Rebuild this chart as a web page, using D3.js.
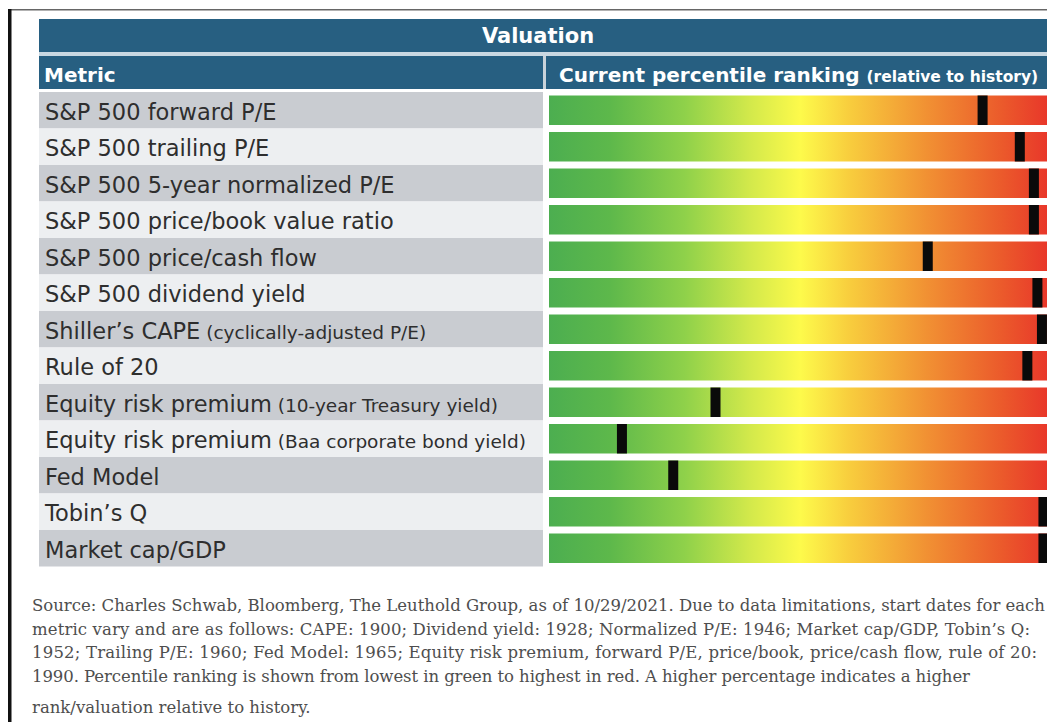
<!DOCTYPE html>
<html>
<head>
<meta charset="utf-8">
<script src="https://cdn.jsdelivr.net/npm/d3@7"></script>
<style>
  html, body { margin: 0; padding: 0; background: #fff; }
  svg { display: block; }
</style>
</head>
<body>
<svg id="chart"></svg>
<script>
// Data
const metrics = [
  "S&P 500 forward P/E",
  "S&P 500 trailing P/E",
  "S&P 500 5-year normalized P/E",
  "S&P 500 price/book value ratio",
  "S&P 500 price/cash flow",
  "S&P 500 dividend yield",
  "Shiller’s CAPE",
  "Rule of 20",
  "Equity risk premium",
  "Equity risk premium",
  "Fed Model",
  "Tobin’s Q",
  "Market cap/GDP"
];
// small text printed after some metric names
const metricNotes = ["", "", "", "", "", "", "(cyclically-adjusted P/E)", "", "(10-year Treasury yield)", "(Baa corporate bond yield)", "", "", ""];
// current percentile ranking, 0 = lowest (green) .. 100 = highest (red)
const percentiles = [86.2, 93.6, 96.4, 96.4, 75.3, 97.1, 98.0, 95.1, 33.1, 14.5, 24.7, 98.3, 98.3];

const title = "Valuation";
const colHeaders = ["Metric", "Current percentile ranking"];
const colHeaderNote = "(relative to history)";
const footnote = [
  "Source: Charles Schwab, Bloomberg, The Leuthold Group, as of 10/29/2021. Due to data limitations, start dates for each",
  "metric vary and are as follows: CAPE: 1900; Dividend yield: 1928; Normalized P/E: 1946; Market cap/GDP, Tobin’s Q:",
  "1952; Trailing P/E: 1960; Fed Model: 1965; Equity risk premium, forward P/E, price/book, price/cash flow, rule of 20:",
  "1990. Percentile ranking is shown from lowest in green to highest in red. A higher percentage indicates a higher",
  "rank/valuation relative to history."
];
const footnoteWidths = [1013, 998, 1005, 938, null];

const W = 1047, H = 722;
const tableLeft = 39, tableRight = 1060;
const labelRight = 543;
const blue = "#275f81";

const svg = d3.select("#chart").attr("width", W).attr("height", H);

// gradient for the bars
const defs = svg.append("defs");
const grad = defs.append("linearGradient").attr("id", "heat")
  .attr("x1", "0%").attr("x2", "100%").attr("y1", "0%").attr("y2", "0%");
[[0, "#4cae50"], [0.12, "#5db84b"], [0.27, "#8fd14a"], [0.4, "#d3e94b"], [0.5, "#fdfa4b"],
 [0.6, "#f8cc3d"], [0.75, "#f19133"], [0.9, "#eb5a2b"], [1, "#e8342a"]]
  .forEach(s => grad.append("stop").attr("offset", s[0]).attr("stop-color", s[1]));

// frame lines
svg.append("rect").attr("x", 8).attr("y", 9).attr("width", W).attr("height", 1.5).attr("fill", "#666");
svg.append("rect").attr("x", 8).attr("y", 9).attr("width", 3.5).attr("height", H).attr("fill", "#111");

// header bars
svg.append("rect").attr("x", tableLeft).attr("y", 19).attr("width", tableRight - tableLeft).attr("height", 33).attr("fill", blue);
svg.append("rect").attr("x", tableLeft).attr("y", 52).attr("width", tableRight - tableLeft).attr("height", 4).attr("fill", "#c9d8e2");
svg.append("rect").attr("x", tableLeft).attr("y", 56).attr("width", tableRight - tableLeft).attr("height", 33).attr("fill", blue);
svg.append("rect").attr("x", labelRight).attr("y", 56).attr("width", 3).attr("height", 33).attr("fill", "#c9d3da");

svg.append("text").attr("x", 538).attr("y", 43).attr("text-anchor", "middle")
  .attr("font-family", "DejaVu Sans").attr("font-weight", "bold").attr("font-size", 21)
  .attr("fill", "#fff").text(title);
svg.append("text").attr("x", 44).attr("y", 82)
  .attr("font-family", "DejaVu Sans").attr("font-weight", "bold").attr("font-size", 20)
  .attr("fill", "#fff").text(colHeaders[0]);
const h2 = svg.append("text").attr("x", 559).attr("y", 82)
  .attr("font-family", "DejaVu Sans").attr("font-weight", "bold").attr("font-size", 20)
  .attr("fill", "#fff");
h2.append("tspan").text(colHeaders[1] + " ");
h2.append("tspan").attr("font-size", 15.5).text(colHeaderNote);

// scales
const y = d3.scaleBand().domain(d3.range(metrics.length)).range([92, 566.5]).padding(0);
const x = d3.scaleLinear().domain([0, 100]).range([549, 1052]);
const barPad = 3.5, barH = y.bandwidth() - 2 * barPad, markW = 10;

const rows = svg.append("g").selectAll("g").data(d3.range(metrics.length)).enter().append("g");

// label cells
rows.append("rect")
  .attr("x", tableLeft).attr("y", i => y(i))
  .attr("width", labelRight - tableLeft).attr("height", y.bandwidth())
  .attr("fill", i => i % 2 === 0 ? "#c9ccd1" : "#edeff1");

const labels = rows.append("text")
  .attr("x", 45).attr("y", i => y(i) + 27.5)
  .attr("font-family", "DejaVu Sans").attr("font-size", 22.5).attr("fill", "#2e2e2e");
labels.append("tspan").text(i => metrics[i]);
labels.append("tspan").attr("font-size", 18.5).text(i => metricNotes[i] ? " " + metricNotes[i] : "");

// gradient bars
rows.append("rect")
  .attr("x", x(0)).attr("y", i => y(i) + barPad)
  .attr("width", x(100) - x(0)).attr("height", barH)
  .attr("fill", "url(#heat)");

// percentile markers
rows.append("rect")
  .attr("x", i => x(percentiles[i]) - markW / 2).attr("y", i => y(i) + barPad)
  .attr("width", markW).attr("height", barH)
  .attr("fill", "#0a0a0a");

// footnote (last line sits a bit lower, right at the bottom edge)
const foot = svg.append("g").attr("font-family", "DejaVu Serif").attr("font-size", 16.5).attr("fill", "#4e4e4e");
foot.selectAll("text").data(footnote).enter().append("text")
  .attr("x", 32).attr("y", (d, i) => 611 + i * 23.6 + (i === 4 ? 8 : 0))
  .each(function (d, i) {
    if (footnoteWidths[i]) d3.select(this).attr("textLength", footnoteWidths[i]).attr("lengthAdjust", "spacing");
  })
  .text(d => d);
</script>
</body>
</html>
